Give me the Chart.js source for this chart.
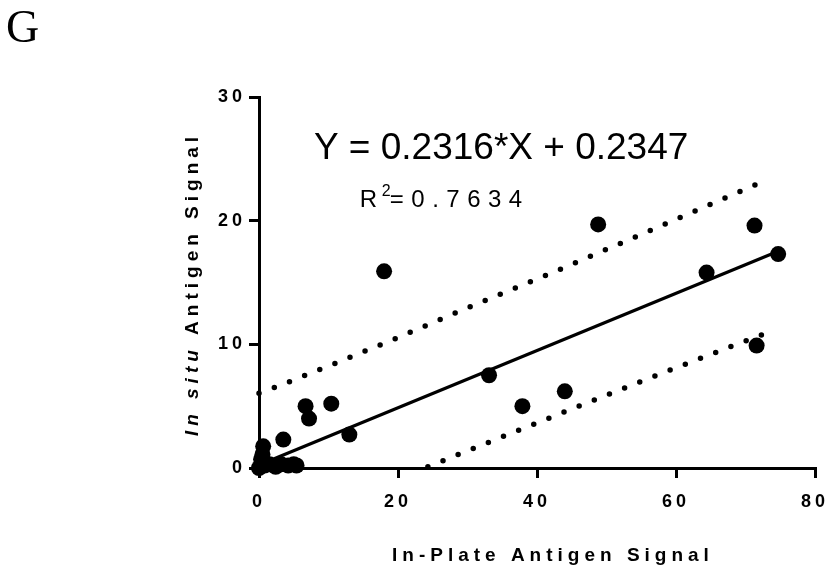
<!DOCTYPE html>
<html>
<head>
<meta charset="utf-8">
<script src="https://cdn.jsdelivr.net/npm/chart.js@4.4.1/dist/chart.umd.min.js"></script>
<style>
html, body { margin: 0; padding: 0; background: #fff; }
#wrap { width: 828px; height: 574px; }
</style>
</head>
<body>
<div id="wrap"><canvas id="chart" width="828" height="574"></canvas></div>
<script>
// ==========================================
// DATA
// ==========================================
const plateSignal  = [0, 0.3, 0.8, 1.5, 2.4, 3.2, 4.2, 5.0, 5.4, 0.5, 0.6, 3.5, 6.7, 7.2, 10.4, 13.0, 18.0, 33.1, 37.9, 44.0, 48.8, 64.4, 71.3, 71.6, 74.7];
const insituSignal = [0, 0.7, 0.2, 0.3, 0.1, 0.3, 0.2, 0.3, 0.2, 1.1, 1.75, 2.3, 5.0, 4.0, 5.2, 2.7, 15.9, 7.5, 5.0, 6.2, 19.7, 15.8, 19.6, 9.9, 17.3];

// fitted line, as printed on the figure
const fitSlope = 0.2316;
const fitIntercept = 0.2347;
const fitRangeX = [0, 74.7];

// dotted prediction band
const upperBandX = [0, 2.4, 11.3, 20.2, 31.2, 42.3, 53.3, 64.3, 73.2];
const upperBandY = [6.05, 6.54, 8.53, 10.6, 13.24, 15.82, 18.48, 21.17, 23.33];
const lowerBandX = [24.3, 33.0, 44.1, 55.2, 66.4, 73.2];
const lowerBandY = [0.1, 2.07, 4.57, 7.05, 9.5, 10.95];

const xTicks = [0, 20, 40, 60, 80];
const yTicks = [0, 10, 20, 30];

const panelLetter = 'G';
const equationText = 'Y = 0.2316*X + 0.2347';
const r2Value = '=0.7634';
const xTitle = 'In-Plate Antigen Signal';
const yTitleItalic = 'In situ';
const yTitleRest = ' Antigen Signal';

const toXY = (xs, ys) => xs.map((x, i) => ({ x: x, y: ys[i] }));

// ==========================================
// TEXT DRAWN ON TOP (titles, equation, panel letter)
// ==========================================
const textPlugin = {
    id: 'figureText',
    beforeDraw(chart) {
        chart.ctx.letterSpacing = '4px';
    },
    afterDraw(chart) {
        const ctx = chart.ctx;
        const xs = chart.scales.x, ys = chart.scales.y;
        ctx.save();
        ctx.fillStyle = '#000';
        ctx.textBaseline = 'alphabetic';
        ctx.textAlign = 'left';

        ctx.letterSpacing = '0px';
        ctx.font = '46px "Liberation Serif"';
        ctx.fillText(panelLetter, 6, 42);

        ctx.font = '37px "Liberation Sans"';
        ctx.fillText(equationText, xs.getPixelForValue(7.9), ys.getPixelForValue(25));

        // R squared
        const rx = xs.getPixelForValue(14.5), ry = ys.getPixelForValue(21.1);
        ctx.font = '24px "Liberation Sans"';
        ctx.fillText('R', rx, ry);
        ctx.font = '16px "Liberation Sans"';
        ctx.fillText('2', rx + 22, ry - 11);
        ctx.letterSpacing = '7.5px';
        ctx.font = '24px "Liberation Sans"';
        ctx.fillText(r2Value, rx + 30, ry);

        // x title
        ctx.letterSpacing = '5px';
        ctx.font = 'bold 19px "Liberation Sans"';
        ctx.fillText(xTitle, 392, 561);

        // y title, rotated
        ctx.translate(198, 284);
        ctx.rotate(-Math.PI / 2);
        ctx.font = 'italic bold 19px "Liberation Sans"';
        const w1 = ctx.measureText(yTitleItalic).width;
        ctx.font = 'bold 19px "Liberation Sans"';
        const w2 = ctx.measureText(yTitleRest).width;
        const start = -(w1 + w2) / 2;
        ctx.font = 'italic bold 19px "Liberation Sans"';
        ctx.fillText(yTitleItalic, start, 0);
        ctx.font = 'bold 19px "Liberation Sans"';
        ctx.fillText(yTitleRest, start + w1, 0);
        ctx.restore();
    }
};

const bandStyle = {
    type: 'line',
    showLine: true,
    borderColor: '#000',
    borderWidth: 5.5,
    borderDash: [0, 16.3],
    borderCapStyle: 'round',
    pointRadius: 0,
    fill: false,
    tension: 0,
    clip: false
};

const axisStyle = (ticks) => ({
    type: 'linear',
    min: ticks[0],
    max: ticks[ticks.length - 1],
    afterBuildTicks: (scale) => { scale.ticks = ticks.map(v => ({ value: v })); },
    border: { display: true, color: '#000', width: 3 },
    grid: { display: true, drawOnChartArea: false, drawTicks: true, tickLength: 10, color: '#000', lineWidth: 3 },
    title: { display: false }
});

const xAxis = axisStyle(xTicks);
xAxis.ticks = { color: '#000', font: { family: 'Liberation Sans', size: 18, weight: 'bold' }, padding: 13, maxRotation: 0 };
xAxis.afterFit = (scale) => { scale.height = 106; scale.paddingRight = 0; };

const yAxis = axisStyle(yTicks);
yAxis.ticks = { color: '#000', font: { family: 'Liberation Sans', size: 18, weight: 'bold' }, padding: 3 };
yAxis.afterFit = (scale) => { scale.width = 259; };

new Chart(document.getElementById('chart'), {
    type: 'scatter',
    data: {
        datasets: [
            {
                data: toXY(plateSignal, insituSignal),
                backgroundColor: '#000',
                borderWidth: 0,
                pointRadius: 8,
                pointHoverRadius: 8,
                clip: false
            },
            {
                type: 'line',
                data: fitRangeX.map(x => ({ x: x, y: fitSlope * x + fitIntercept })),
                borderColor: '#000',
                borderWidth: 3.2,
                pointRadius: 0,
                fill: false,
                clip: false
            },
            Object.assign({ data: toXY(upperBandX, upperBandY) }, bandStyle),
            Object.assign({ data: toXY(lowerBandX, lowerBandY) }, bandStyle)
        ]
    },
    options: {
        responsive: false,
        animation: false,
        events: [],
        layout: { padding: { left: 0, right: 13, top: 97, bottom: 0 } },
        plugins: { legend: { display: false }, tooltip: { enabled: false } },
        scales: { x: xAxis, y: yAxis }
    },
    plugins: [textPlugin]
});
</script>
</body>
</html>
